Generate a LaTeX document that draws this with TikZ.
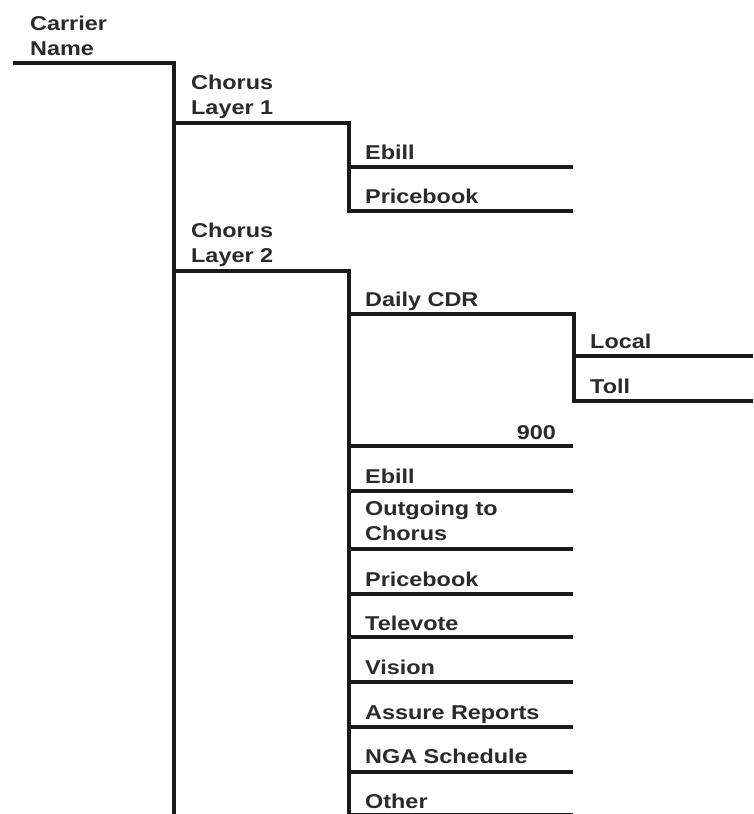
\documentclass[tikz,border=0pt]{standalone}
\usepackage{fontspec}
\setmainfont{Liberation Sans}[FakeStretch=1.17]
\definecolor{txt}{HTML}{2A2A2A}
\definecolor{ln}{HTML}{1A1A1A}
\begin{document}
\begin{tikzpicture}[x=1pt,y=-1pt,
  lbl/.style={anchor=base west,inner sep=0pt,font=\fontsize{20}{25}\selectfont\bfseries,text=txt},
  wire/.style={draw=ln,line width=4pt}]
\useasboundingbox (0,0) rectangle (753,814);
\fill[white] (0,0) rectangle (753,814);
% junction coordinates
\coordinate (c0) at (13,63);
\coordinate (v1) at (173.5,63);
\coordinate (v1b) at (173.5,814);
\coordinate (l1a) at (173.5,122.5);
\coordinate (l1b) at (348.5,122.5);
\coordinate (l1c) at (348.5,211);
\coordinate (l2a) at (173.5,270.5);
\coordinate (l2b) at (348.5,270.5);
\coordinate (l2c) at (348.5,814);
\coordinate (cdr) at (348.5,313.5);
\coordinate (cdrb) at (573.5,313.5);
\coordinate (cdrc) at (573.5,400.5);
% labels
\node[lbl] (carrier) at (30,30) {\begin{tabular}[t]{@{}l@{}}Carrier\\Name\end{tabular}};
\node[lbl] (cl1) at (191,89) {\begin{tabular}[t]{@{}l@{}}Chorus\\Layer 1\end{tabular}};
\node[lbl] (eb1) at (365,159) {Ebill};
\node[lbl] (pb1) at (365,203) {Pricebook};
\node[lbl] (cl2) at (191,237) {\begin{tabular}[t]{@{}l@{}}Chorus\\Layer 2\end{tabular}};
\node[lbl] (dcdr) at (365,306) {Daily CDR};
\node[lbl] (local) at (590,348) {Local};
\node[lbl] (toll) at (590,393) {Toll};
\node[lbl,anchor=base east] (n900) at (556,439) {900};
\node[lbl] (eb2) at (365,483) {Ebill};
\node[lbl] (out) at (365,515) {\begin{tabular}[t]{@{}l@{}}Outgoing to\\Chorus\end{tabular}};
\node[lbl] (pb2) at (365,586) {Pricebook};
\node[lbl] (tv) at (365,630) {Televote};
\node[lbl] (vis) at (365,674) {Vision};
\node[lbl] (ass) at (365,719) {Assure Reports};
\node[lbl] (nga) at (365,763) {NGA Schedule};
\node[lbl] (oth) at (365,808) {Other};
% connectors
\draw[wire] (c0) -- (v1) -- (v1b);
\draw[wire] (l1a) -- (l1b) -- (l1c) -- (l1c -| 573,0);
\draw[wire] (l1b |- 0,167) -- (573,167);
\draw[wire] (l2a) -- (l2b) -- (l2c);
\draw[wire] (cdr) -- (cdrb) -- (cdrc) -- (753,400.5);
\draw[wire] (cdrb |- 0,356) -- (753,356);
\foreach \y in {446,491,549,594,637,682,727,772,815}
  \draw[wire] (l2b |- 0,\y) -- (573,\y);
\end{tikzpicture}
\end{document}
